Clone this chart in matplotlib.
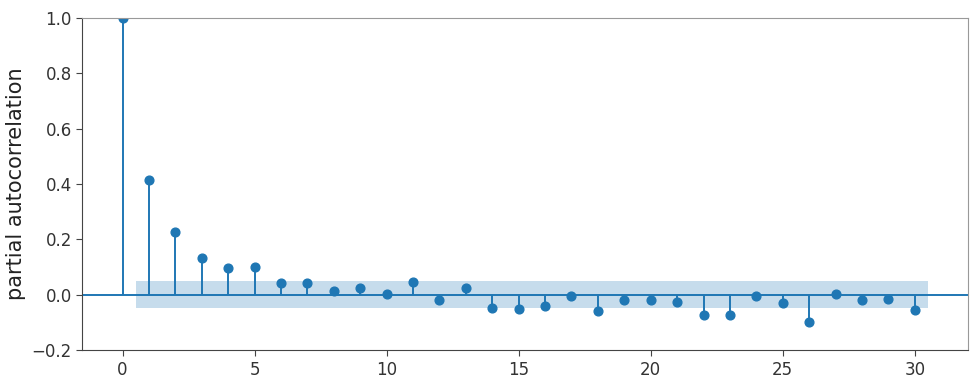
import numpy as np
import matplotlib
matplotlib.use("Agg")
import matplotlib.pyplot as plt

# partial autocorrelation values, lags 0..30
lags = np.arange(31)
pacf_vals = [1.0, 0.415, 0.227, 0.134, 0.097, 0.099, 0.042, 0.043, 0.015, 0.025,
             0.002, 0.047, -0.018, 0.025, -0.049, -0.050, -0.042, -0.005, -0.060,
             -0.018, -0.018, -0.025, -0.073, -0.072, -0.006, -0.031, -0.100,
             0.003, -0.020, -0.016, -0.055]
conf = 0.049  # half width of the confidence band

fig, ax = plt.subplots(figsize=(9.8, 3.89), dpi=100)
color = "#1f77b4"

ax.vlines(lags, [0], pacf_vals, color=color, linewidth=1.4)
ax.plot(lags, pacf_vals, "o", color=color, markersize=6.3)
ax.axhline(0, color=color, linewidth=1.4)
band_x = np.concatenate([[lags[1] - 0.5], lags[2:], [lags[-1] + 0.5]])
ax.fill_between(band_x, -conf, conf, color=color, alpha=0.25, linewidth=0)

ax.set_ylim(-0.2, 1.0)
ax.set_xticks(np.arange(0, 31, 5))
ax.set_ylabel("partial autocorrelation", fontsize=15, color="#222222")

for side in ["top", "right"]:
    ax.spines[side].set_color("#999999")
for side in ["left", "bottom"]:
    ax.spines[side].set_color("#444444")
ax.tick_params(labelsize=12, labelcolor="#333333", color="#444444", length=4)

fig.subplots_adjust(left=0.084, right=0.988, top=0.954, bottom=0.1)
fig.savefig("out.png", dpi=100)
